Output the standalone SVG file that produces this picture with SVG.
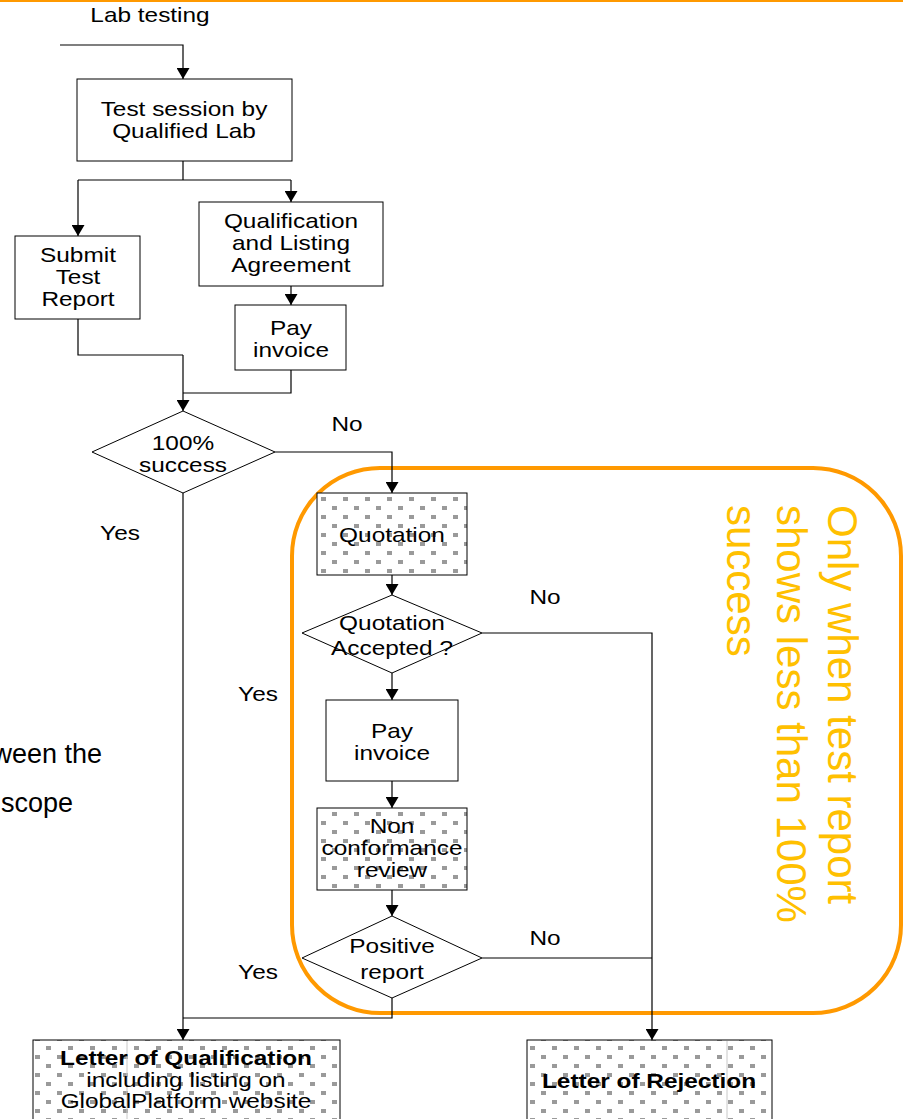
<svg xmlns="http://www.w3.org/2000/svg" width="903" height="1119" viewBox="0 0 903 1119">
<style>
.t{font-family:"Liberation Sans",Arial,sans-serif;font-size:20px;fill:#000;text-anchor:middle}
.b{font-weight:bold}
.box{fill:#fff;stroke:#000;stroke-width:1}
.pbox{fill:url(#dots);stroke:#000;stroke-width:1}
.ln{fill:none;stroke:#000;stroke-width:1.2}
.arr{marker-end:url(#ah)}
.big{font-family:"Liberation Sans",Arial,sans-serif;font-size:42px;fill:#FFC000}
.frag{font-family:"Liberation Sans",Arial,sans-serif;font-size:27px;fill:#000;text-anchor:end}
</style>
<defs>
<marker id="ah" markerUnits="userSpaceOnUse" markerWidth="12" markerHeight="13" refX="11" refY="6.5" orient="auto">
<path d="M0,0 L11,6.5 L0,13 z" fill="#000"/>
</marker>
<pattern id="dots" patternUnits="userSpaceOnUse" width="22" height="18" x="0" y="0">
<rect width="22" height="18" fill="#fff"/>
<rect x="2" y="2" width="5" height="4" fill="#9a9a9a"/>
<rect x="13" y="11" width="5" height="4" fill="#9a9a9a"/>
</pattern>
</defs>
<rect width="903" height="1119" fill="#fff"/>
<line x1="0" y1="1" x2="903" y2="1" stroke="#FF9900" stroke-width="2"/>
<text class="t" transform="matrix(1.22 0 0 1 150 22)">Lab testing</text>

<g id="scope-region">
<rect x="292" y="468" width="609" height="545" rx="88" ry="88" fill="none" stroke="#FF9900" stroke-width="4"/>
<text class="big" transform="translate(828,505) rotate(90)"><tspan x="0" y="0">Only when test report</tspan><tspan x="0" y="51">shows less than 100%</tspan><tspan x="0" y="101">success</tspan></text>
</g>

<g id="fragments">
<text class="frag" x="102" y="763">ween the</text>
<text class="frag" x="73" y="812">scope</text>
</g>

<g id="test-session">
<rect class="box" x="77" y="79" width="215" height="82"/>
<text class="t" transform="matrix(1.22 0 0 1 184 116)"><tspan x="0" y="0">Test session by</tspan><tspan x="0" y="22">Qualified Lab</tspan></text>
</g>
<g id="submit-report">
<rect class="box" x="15" y="236" width="125" height="83"/>
<text class="t" transform="matrix(1.22 0 0 1 78 262)"><tspan x="0" y="0">Submit</tspan><tspan x="0" y="22">Test</tspan><tspan x="0" y="44">Report</tspan></text>
</g>
<g id="qualification-agreement">
<rect class="box" x="199" y="202" width="184" height="84"/>
<text class="t" transform="matrix(1.22 0 0 1 291 228)"><tspan x="0" y="0">Qualification</tspan><tspan x="0" y="22">and Listing</tspan><tspan x="0" y="44">Agreement</tspan></text>
</g>
<g id="pay-invoice-1">
<rect class="box" x="235" y="305" width="111" height="65"/>
<text class="t" transform="matrix(1.22 0 0 1 291 335)"><tspan x="0" y="0">Pay</tspan><tspan x="0" y="22">invoice</tspan></text>
</g>
<g id="success-decision">
<polygon class="box" points="183,411 275,452 183,493 92,452"/>
<text class="t" transform="matrix(1.22 0 0 1 183 450)"><tspan x="0" y="0">100%</tspan><tspan x="0" y="22">success</tspan></text>
</g>
<g id="quotation">
<rect class="pbox" x="317" y="493" width="150" height="82"/>
<text class="t" transform="matrix(1.22 0 0 1 392 542)">Quotation</text>
</g>
<g id="quotation-accepted">
<polygon class="box" points="392,595 482,633 392,673 302,633"/>
<text class="t" transform="matrix(1.22 0 0 1 392 630)"><tspan x="0" y="0">Quotation</tspan><tspan x="0" y="25">Accepted ?</tspan></text>
</g>
<g id="pay-invoice-2">
<rect class="box" x="326" y="700" width="132" height="81"/>
<text class="t" transform="matrix(1.22 0 0 1 392 738)"><tspan x="0" y="0">Pay</tspan><tspan x="0" y="22">invoice</tspan></text>
</g>
<g id="nonconformance-review">
<rect class="pbox" x="317" y="808" width="150" height="82"/>
<text class="t" transform="matrix(1.22 0 0 1 392 833)"><tspan x="0" y="0">Non</tspan><tspan x="0" y="22">conformance</tspan><tspan x="0" y="44">review</tspan></text>
</g>
<g id="positive-report">
<polygon class="box" points="392,916 482,958 392,998 302,958"/>
<text class="t" transform="matrix(1.22 0 0 1 392 953)"><tspan x="0" y="0">Positive</tspan><tspan x="0" y="26">report</tspan></text>
</g>
<g id="letter-qualification">
<rect class="pbox" x="33" y="1040" width="307" height="90"/>
<line x1="127" y1="1041" x2="127" y2="1119" stroke="#c8c8c8" stroke-width="1"/>
<text class="t" transform="matrix(1.22 0 0 1 186 1065)"><tspan class="b" x="0" y="0">Letter of Qualification</tspan><tspan x="0" y="22">including listing on</tspan><tspan x="0" y="43">GlobalPlatform website</tspan></text>
</g>
<g id="letter-rejection">
<rect class="pbox" x="527" y="1040" width="245" height="90"/>
<line x1="727" y1="1041" x2="727" y2="1119" stroke="#c8c8c8" stroke-width="1"/>
<text class="t b" transform="matrix(1.22 0 0 1 649 1088)">Letter of Rejection</text>
</g>

<g id="connectors">
<path class="ln arr" d="M60,45 H183 V79"/>
<path class="ln" d="M183,161 V180 M78,180 H291"/>
<path class="ln arr" d="M78,180 V236"/>
<path class="ln arr" d="M291,180 V202"/>
<path class="ln arr" d="M291,286 V305"/>
<path class="ln" d="M78,319 V355 H183"/>
<path class="ln" d="M291,370 V393 H183"/>
<path class="ln arr" d="M183,355 V411"/>
<path class="ln arr" d="M275,452 H392 V493"/>
<path class="ln arr" d="M183,493 V1040"/>
<path class="ln arr" d="M392,575 V595"/>
<path class="ln arr" d="M482,633 H652 V1040"/>
<path class="ln arr" d="M392,673 V700"/>
<path class="ln arr" d="M392,781 V808"/>
<path class="ln arr" d="M392,890 V916"/>
<path class="ln" d="M482,958 H652"/>
<path class="ln" d="M392,998 V1018 H183"/>
<text class="t" transform="matrix(1.22 0 0 1 347 431)">No</text>
<text class="t" transform="matrix(1.22 0 0 1 120 540)">Yes</text>
<text class="t" transform="matrix(1.22 0 0 1 545 604)">No</text>
<text class="t" transform="matrix(1.22 0 0 1 258 701)">Yes</text>
<text class="t" transform="matrix(1.22 0 0 1 545 945)">No</text>
<text class="t" transform="matrix(1.22 0 0 1 258 979)">Yes</text>
</g>
</svg>
